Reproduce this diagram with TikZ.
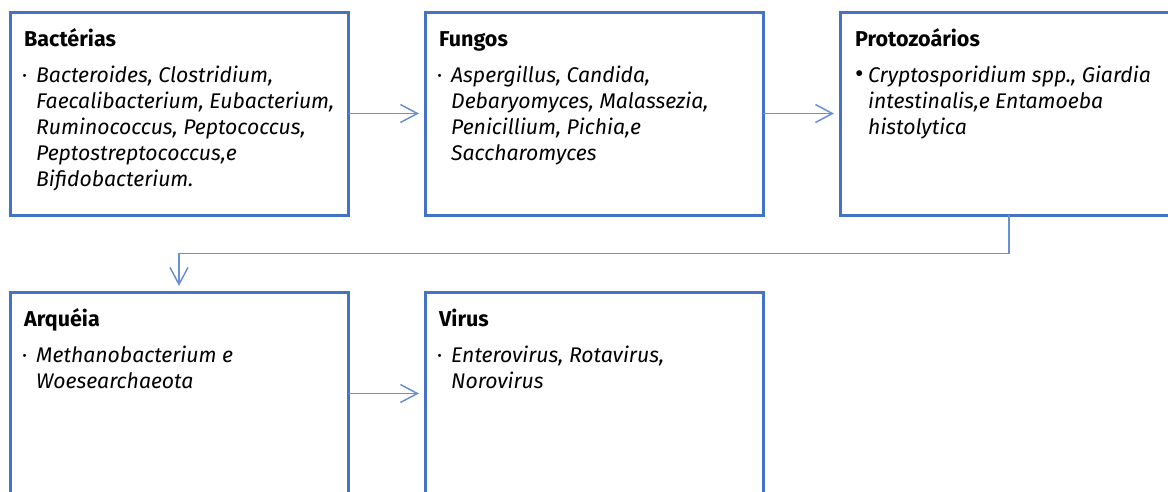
\documentclass[tikz,border=0pt]{standalone}
\usepackage{fontspec}
\setmainfont{Fira Sans}
\usetikzlibrary{positioning, calc, arrows.meta}

\definecolor{boxblue}{HTML}{4472C4}
\definecolor{linkblue}{HTML}{6A90D4}

\newcommand{\dotitem}{\makebox[14pt][l]{\upshape\textperiodcentered}}
\newcommand{\bigitem}{\makebox[13pt][l]{\upshape\fontsize{26}{26}\selectfont\textbullet}}
\newcommand{\hang}{\hspace*{14pt}}
\newcommand{\entries}[1]{\parbox[t]{330pt}{\raggedright #1}}

\tikzset{
  group/.style={draw=boxblue, line width=3pt, anchor=north west, outer sep=0pt,
    inner sep=0pt, minimum width=338pt, minimum height=203pt},
  head/.style={anchor=base west, inner sep=0pt, font=\fontsize{21.5}{26}\selectfont\bfseries},
  body/.style={anchor=base west, inner sep=0pt,
    font=\fontsize{21.2}{26}\selectfont\itshape},
  link/.style={draw=linkblue, line width=1.5pt,
    -{Straight Barb[length=17pt, width=18pt]}, shorten >=6pt}
}

\begin{document}
\begin{tikzpicture}[x=1pt, y=-1pt]
    \useasboundingbox (0,0) rectangle (1168,491);

    % Boxes
    \node[group] (bact) at (10,12) {};
    \node[group] (fung) at (425,12) {};
    \node[group] (proto) at (840,12) {};
    \node[group] (arq) at (10,292) {};
    \node[group] (virus) at (425,292) {};

    % Titles
    \node[head] (bactT) at ([shift={(14,34)}]bact.north west) {Bactérias};
    \node[head] (fungT) at ([shift={(14,34)}]fung.north west) {Fungos};
    \node[head] (protoT) at ([shift={(15,34)}]proto.north west) {Protozoários};
    \node[head] (arqT) at ([shift={(14,34)}]arq.north west) {Arquéia};
    \node[head] (virusT) at ([shift={(14,34)}]virus.north west) {Virus};

    % Lists
    \node[body] (bactL) at ([shift={(12,70)}]bact.north west)
        {\entries{\dotitem Bacteroides, Clostridium,\\
         \hang Faecalibacterium, Eubacterium,\\
         \hang Ruminococcus, Peptococcus,\\
         \hang Peptostreptococcus,e\\
         \hang Bifidobacterium.}};
    \node[body] (fungL) at ([shift={(12,70)}]fung.north west)
        {\entries{\dotitem Aspergillus, Candida,\\
         \hang Debaryomyces, Malassezia,\\
         \hang Penicillium, Pichia,e\\
         \hang Saccharomyces}};
    \node[body] (protoL) at ([shift={(15,70)}]proto.north west)
        {\entries{\bigitem Cryptosporidium spp., Giardia\\
         \hspace*{13pt}intestinalis,e Entamoeba\\
         \hspace*{13pt}histolytica}};
    \node[body] (arqL) at ([shift={(12,70)}]arq.north west)
        {\entries{\dotitem Methanobacterium e\\
         \hang Woesearchaeota}};
    \node[body] (virusL) at ([shift={(12,70)}]virus.north west)
        {\entries{\dotitem Enterovirus, Rotavirus,\\
         \hang Norovirus}};

    % Links
    \draw[link] (bact) -- (fung);
    \draw[link] (fung) -- (proto);
    \draw[link] (proto.south) |- ($(proto.south)!.5!(arq.north)$) -| (arq.north);
    \draw[link] (arq) -- (virus);
\end{tikzpicture}
\end{document}
